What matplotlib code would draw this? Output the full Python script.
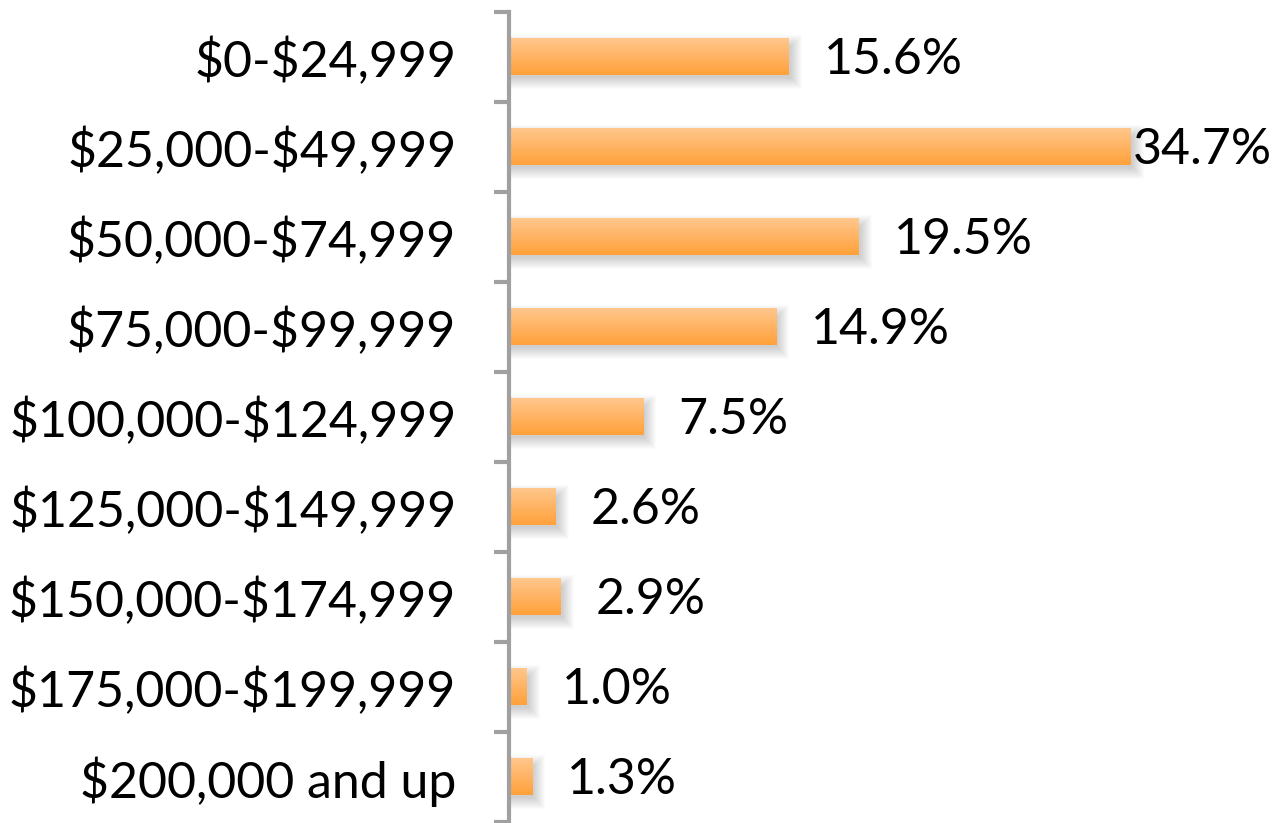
import numpy as np
import matplotlib
matplotlib.use('Agg')
import matplotlib.pyplot as plt
from matplotlib.patches import Rectangle

categories = ['$0-$24,999', '$25,000-$49,999', '$50,000-$74,999', '$75,000-$99,999',
              '$100,000-$124,999', '$125,000-$149,999', '$150,000-$174,999',
              '$175,000-$199,999', '$200,000 and up']
values = [15.6, 34.7, 19.5, 14.9, 7.5, 2.6, 2.9, 1.0, 1.3]
labels = ['15.6%', '34.7%', '19.5%', '14.9%', '7.5%', '2.6%', '2.9%', '1.0%', '1.3%']

plt.rcParams['font.family'] = ['Lato', 'DejaVu Sans']
plt.rcParams['text.parse_math'] = False

W, H = 1284, 823
fig = plt.figure(figsize=(W/100, H/100), dpi=100)
ax_l, ax_r, ax_b, ax_t = 509, 1284, 1, 12
ax = fig.add_axes([ax_l/W, ax_b/H, (ax_r-ax_l)/W, (H-ax_t-ax_b)/H])

px_per_pct = (1133-511)/34.7
xmax = (ax_r-ax_l)/px_per_pct
n = len(categories)
pxx = 1/px_per_pct          # one pixel in x data
pxy = n/(H-ax_t-ax_b)       # one pixel in y data

bh = 0.41
grad = np.linspace(0, 1, 64).reshape(-1, 1)
c_top = np.array([1.0, 0.78, 0.55])
c_bot = np.array([1.0, 0.63, 0.23])
img = c_top[None, None, :]*(1-grad[:, :, None]) + c_bot[None, None, :]*grad[:, :, None]

for i, v in enumerate(values):
    y0 = i - bh/2
    # soft shadow, a stack of faint grey boxes
    for s in range(1, 13):
        ax.add_patch(Rectangle((pxx*(4-s), y0 + pxy*(8-s)),
                               v + pxx*2*s - pxx*3, bh + pxy*(2*s-6),
                               fc='black', ec='none', alpha=0.016, zorder=1))
    ax.imshow(img, extent=(0, v, y0+bh, y0), aspect='auto', zorder=2,
              interpolation='bilinear')
    off = 2 if v == max(values) else 35
    ax.annotate(labels[i], (v, i), xytext=(off, -3), textcoords='offset pixels',
                ha='left', va='center', fontsize=36, color='black')

ax.set_xlim(0, xmax)
ax.set_ylim(n-0.5, -0.5)

for s in ['top', 'right', 'bottom']:
    ax.spines[s].set_visible(False)
ax.spines['left'].set_color('#a0a0a0')
ax.spines['left'].set_linewidth(3)
ax.set_xticks([])
ax.set_yticks(range(n))
ax.set_yticklabels(categories, fontsize=36)
ax.tick_params(axis='y', which='major', length=0, pad=38)
ax.set_yticks(np.arange(-0.5, n, 1.0), minor=True)
ax.tick_params(axis='y', which='minor', length=11, width=3, color='#a0a0a0', direction='out')

fig.savefig('out.png', dpi=100)
